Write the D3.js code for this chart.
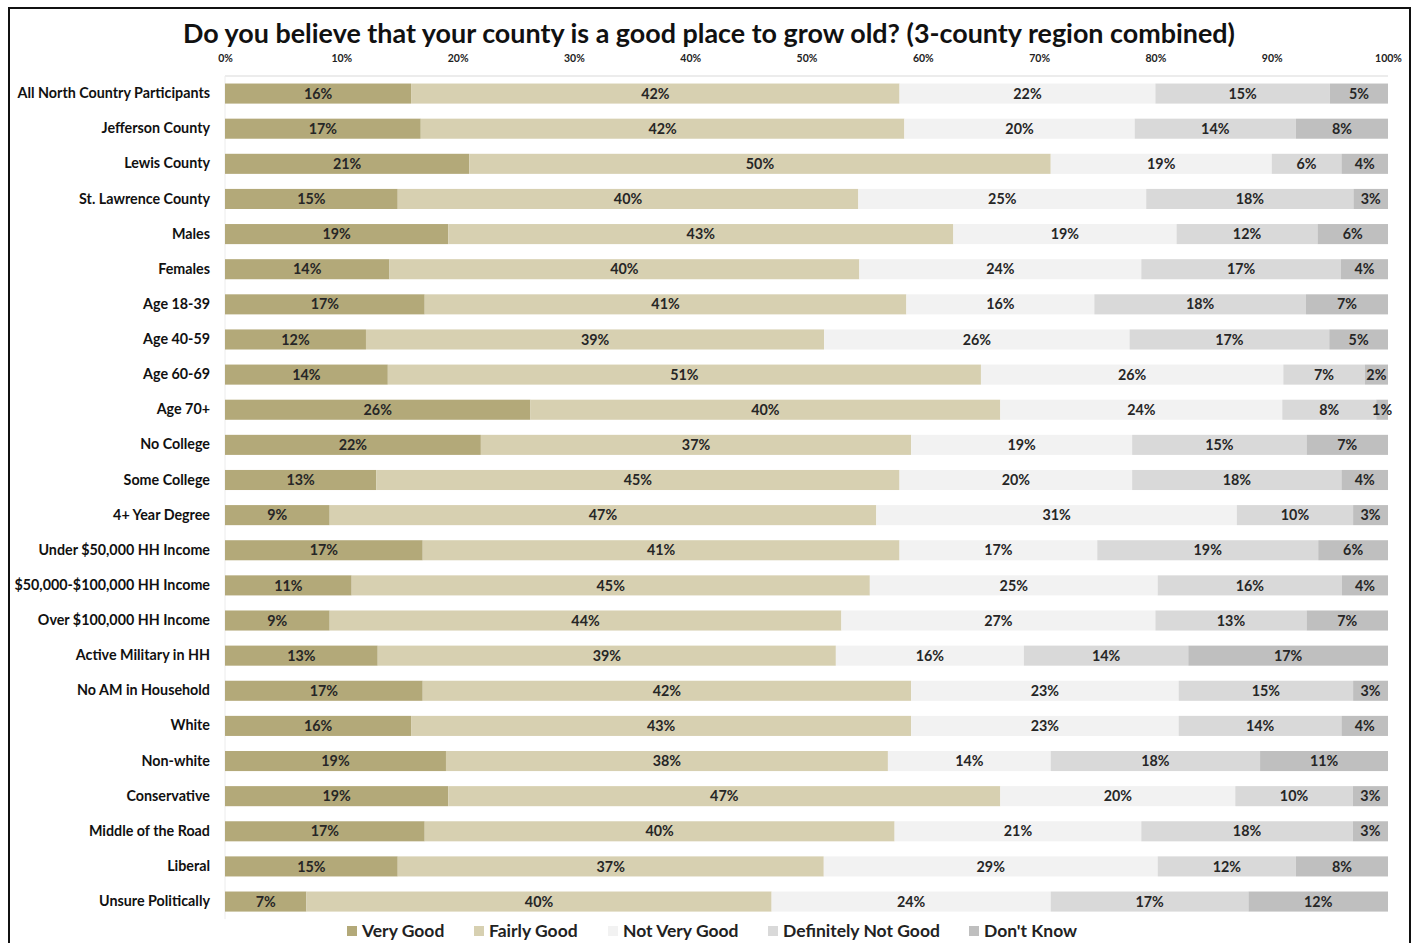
<!DOCTYPE html>
<html><head><meta charset="utf-8">
<script src="https://cdn.jsdelivr.net/npm/d3@7"></script>
<style>
html,body{margin:0;padding:0;background:#fff;}
svg{display:block;font-family:Lato,"Open Sans",sans-serif;}
</style></head>
<body>
<svg id="chart" width="1421" height="943"></svg>
<script>
const categories = ["All North Country Participants","Jefferson County","Lewis County","St. Lawrence County","Males","Females","Age 18-39","Age 40-59","Age 60-69","Age 70+","No College","Some College","4+ Year Degree","Under $50,000 HH Income","$50,000-$100,000 HH Income","Over $100,000 HH Income","Active Military in HH","No AM in Household","White","Non-white","Conservative","Middle of the Road","Liberal","Unsure Politically"];
const seriesNames = ["Very Good","Fairly Good","Not Very Good","Definitely Not Good","Don't Know"];
const veryGood    = [16,17,21,15,19,14,17,12,14,26,22,13,9,17,11,9,13,17,16,19,19,17,15,7];
const fairlyGood  = [42,42,50,40,43,40,41,39,51,40,37,45,47,41,45,44,39,42,43,38,47,40,37,40];
const notVeryGood = [22,20,19,25,19,24,16,26,26,24,19,20,31,17,25,27,16,23,23,14,20,21,29,24];
const defNotGood  = [15,14,6,18,12,17,18,17,7,8,15,18,10,19,16,13,14,15,14,18,10,18,12,17];
const dontKnow    = [5,8,4,3,6,4,7,5,2,1,7,4,3,6,4,7,17,3,4,11,3,3,8,12];
const tickLabels = ["0%","10%","20%","30%","40%","50%","60%","70%","80%","90%","100%"];
const title = "Do you believe that your county is a good place to grow old? (3-county region combined)";

const colors = ["#b3a979","#d7d0b1","#f2f2f2","#d9d9d9","#bfbfbf"];
const seriesArrays = [veryGood, fairlyGood, notVeryGood, defNotGood, dontKnow];

const rows = categories.map((c,i)=>{
  const o = {category:c};
  seriesNames.forEach((s,j)=> o[s] = seriesArrays[j][i]);
  return o;
});

const svg = d3.select("#chart");
const plotLeft = 225, plotRight = 1388, plotTop = 76, step = 35.13;

const x = d3.scaleLinear().domain([0,1]).range([plotLeft,plotRight]);
const y = d3.scaleBand().domain(categories).range([plotTop, plotTop + step*categories.length]).paddingInner(15/35).paddingOuter(7.5/35);

const stack = d3.stack().keys(seriesNames).offset(d3.stackOffsetExpand);
const stacked = stack(rows);

// border
svg.append("rect").attr("x",9).attr("y",8).attr("width",1401).attr("height",960)
  .attr("fill","none").attr("stroke","#111").attr("stroke-width",2);

// title
svg.append("text").attr("x",709).attr("y",43).attr("text-anchor","middle")
  .attr("font-size",26).attr("font-weight",700).attr("fill","#111")
  .attr("textLength",1052).attr("lengthAdjust","spacingAndGlyphs")
  .text(title);

// top gridline & left axis line
svg.append("line").attr("x1",plotLeft).attr("x2",plotRight).attr("y1",plotTop).attr("y2",plotTop)
  .attr("stroke","#d9d9d9").attr("stroke-width",1);
svg.append("line").attr("x1",plotLeft).attr("x2",plotLeft).attr("y1",plotTop).attr("y2",plotTop+step*categories.length)
  .attr("stroke","#ececec").attr("stroke-width",1);

// x axis ticks on top
const xAxis = d3.axisTop(x).tickValues(d3.range(0,1.0001,0.1)).tickSize(0)
  .tickFormat((d,i)=>tickLabels[i]);
const gx = svg.append("g").attr("transform",`translate(0,${65})`).call(xAxis);
gx.select(".domain").remove();
gx.selectAll("text").attr("font-size",10.5).attr("font-weight",700).attr("fill","#222")
  .attr("font-family","Lato, sans-serif");

// y axis labels
const yAxis = d3.axisLeft(y).tickSize(0).tickPadding(15);
const gy = svg.append("g").attr("transform",`translate(${plotLeft},0)`).call(yAxis);
gy.select(".domain").remove();
gy.selectAll("text").attr("font-size",14.3).attr("font-weight",700).attr("fill","#111")
  .attr("font-family","Lato, sans-serif");

// bars
const layers = svg.append("g").selectAll("g").data(stacked).join("g")
  .attr("fill",(d,i)=>colors[i]);
layers.selectAll("rect").data(d=>d).join("rect")
  .attr("x",d=>x(d[0])).attr("width",d=>x(d[1])-x(d[0]))
  .attr("y",d=>y(d.data.category)).attr("height",y.bandwidth());

// labels
const lab = svg.append("g").selectAll("g").data(stacked).join("g");
lab.selectAll("text").data(d=>d.map(v=>({v, key:d.key}))).join("text")
  .attr("x",d=>(x(d.v[0])+x(d.v[1]))/2)
  .attr("y",d=>y(d.v.data.category)+y.bandwidth()/2)
  .attr("dy","0.36em").attr("text-anchor","middle")
  .attr("font-size",14.3).attr("font-weight",700).attr("fill","#262626")
  .text(d=>d.v.data[d.key]+"%");

// legend
const legendY = 931;
const lg = svg.append("g").attr("font-size",17.5).attr("font-weight",700).attr("fill","#222");
const startX = [347,474,608,768,969];
seriesNames.forEach((s,i)=>{
  lg.append("rect").attr("x",startX[i]).attr("y",legendY-5).attr("width",10).attr("height",10).attr("fill",colors[i]);
  lg.append("text").attr("x",startX[i]+15).attr("y",legendY).attr("dy","0.36em").text(s);
});
</script>
</body></html>
